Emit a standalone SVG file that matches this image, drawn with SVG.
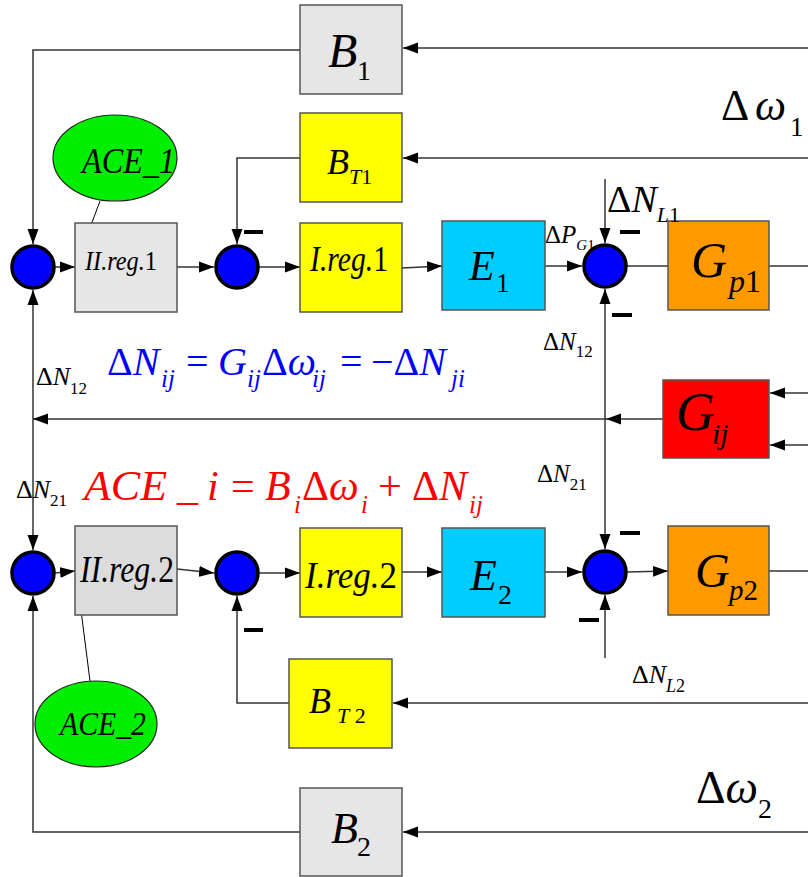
<svg xmlns="http://www.w3.org/2000/svg" width="808" height="877" viewBox="0 0 808 877">
<defs>
<marker id="ar" markerUnits="userSpaceOnUse" markerWidth="16" markerHeight="12" refX="15" refY="6" orient="auto">
<path d="M0,0.5 L15,6 L0,11.5 z" fill="#000"/>
</marker>
<style>
svg g[id] g text, svg g[id] g tspan, svg g text, svg text, svg tspan{font-family:'Liberation Serif','Times New Roman',serif !important}
.box{stroke:#555;stroke-width:1.5}
.gray{fill:#e6e6e6}
.gray2{fill:#dcdcdc}
.yel{fill:#ffff00}
.cy{fill:#00ccff}
.or{fill:#ff9900}
.rd{fill:#ff0000}
.sum{fill:#0000ff;stroke:#000;stroke-width:3.5}
.ace{fill:#00ee00;stroke:#222;stroke-width:1.2}
.ln{fill:none;stroke:#333;stroke-width:1.5}
.la{fill:none;stroke:#333;stroke-width:1.5;marker-end:url(#ar)}
.thin{fill:none;stroke:#000;stroke-width:1}
.minus{fill:#000}
</style>
</defs>
<rect width="808" height="877" fill="#ffffff"/>

<g id="connectors">
<line class="la" x1="808" y1="48" x2="403" y2="48"/>
<polyline class="la" points="300,50 33,50 33,244"/>
<line class="la" x1="808" y1="158" x2="403" y2="158"/>
<polyline class="la" points="300,158 237,158 237,244"/>
<line class="la" x1="55" y1="267" x2="75" y2="267"/>
<line class="la" x1="177" y1="267" x2="214" y2="267"/>
<line class="la" x1="259" y1="267" x2="300" y2="267"/>
<line class="la" x1="402" y1="268" x2="442" y2="266"/>
<line class="la" x1="545" y1="266" x2="582" y2="266"/>
<line class="ln" x1="627" y1="266" x2="668" y2="266"/>
<line class="ln" x1="769" y1="266" x2="808" y2="266"/>
<line class="la" x1="605" y1="179" x2="605" y2="243"/>
<line class="la" x1="605" y1="419" x2="605" y2="289"/>
<line class="la" x1="605" y1="419" x2="605" y2="549"/>
<line class="la" x1="663" y1="419" x2="606" y2="419"/>
<line class="la" x1="606" y1="419" x2="33" y2="419"/>
<line class="la" x1="808" y1="393" x2="770" y2="393"/>
<line class="la" x1="808" y1="445" x2="770" y2="445"/>
<line class="la" x1="33" y1="419" x2="33" y2="290"/>
<line class="la" x1="33" y1="419" x2="33" y2="550"/>
<line class="la" x1="55" y1="573" x2="75" y2="571"/>
<line class="la" x1="177" y1="569" x2="214" y2="573"/>
<line class="la" x1="259" y1="573" x2="300" y2="573"/>
<line class="la" x1="402" y1="572" x2="442" y2="572"/>
<line class="la" x1="545" y1="572" x2="582" y2="572"/>
<line class="la" x1="627" y1="572" x2="668" y2="571"/>
<line class="ln" x1="769" y1="571" x2="808" y2="571"/>
<line class="la" x1="605" y1="658" x2="605" y2="595"/>
<line class="la" x1="808" y1="703" x2="393" y2="703"/>
<polyline class="la" points="289,703 237,703 237,596"/>
<line class="la" x1="808" y1="832" x2="403" y2="832"/>
<polyline class="la" points="300,832 33,832 33,596"/>
<line class="thin" x1="100" y1="201" x2="75" y2="268"/>
<line class="thin" x1="90" y1="681" x2="76" y2="571"/>
</g>

<g id="B1"><rect class="box gray" x="300" y="5" width="102" height="89"/>
<g><text x="328" y="67" font-size="48" font-family="Liberation Serif" font-style="italic">B</text><text x="357" y="80" font-size="28" font-family="Liberation Serif">1</text></g></g>

<g id="BT1"><rect class="box yel" x="300" y="113" width="102" height="89"/>
<g><text x="327" y="174" font-size="36" font-family="Liberation Serif" font-style="italic">B</text><text x="349" y="184" font-size="22" font-family="Liberation Serif"><tspan font-style="italic">T</tspan>1</text></g></g>

<g id="ACE_1"><ellipse class="ace" cx="115" cy="158" rx="62" ry="43"/>
<g><text x="82" y="173" font-size="36" font-family="Liberation Serif" font-style="italic" textLength="93" lengthAdjust="spacingAndGlyphs">ACE_1</text></g></g>

<g id="sum1"><circle class="sum" cx="33" cy="267" r="21"/></g>
<g id="IIreg1"><rect class="box gray" x="75" y="223" width="102" height="89"/>
<g><text x="85" y="270" font-size="27" font-family="Liberation Serif" textLength="72" lengthAdjust="spacingAndGlyphs"><tspan font-style="italic">II.reg.</tspan>1</text></g></g>
<g id="sum2"><circle class="sum" cx="237" cy="267" r="21"/></g>
<g id="Ireg1"><rect class="box yel" x="300" y="223" width="102" height="89"/>
<g><text x="310" y="271" font-size="35" font-family="Liberation Serif" textLength="78" lengthAdjust="spacingAndGlyphs"><tspan font-style="italic">I.reg.</tspan>1</text></g></g>
<g id="E1"><rect class="box cy" x="442" y="221" width="103" height="89"/>
<g><text x="469" y="280" font-size="42" font-family="Liberation Serif" font-style="italic">E</text><text x="496" y="292" font-size="27" font-family="Liberation Serif">1</text></g></g>
<g id="sum3"><circle class="sum" cx="605" cy="266" r="21"/></g>
<g id="Gp1"><rect class="box or" x="668" y="221" width="101" height="89"/>
<g><text x="691" y="277" font-size="50" font-family="Liberation Serif" font-style="italic">G</text><text x="729" y="292" font-size="32" font-family="Liberation Serif"><tspan font-style="italic">p</tspan>1</text></g></g>

<g id="Gij"><rect class="box rd" x="663" y="380" width="106" height="78"/>
<g><text x="676" y="430" font-size="54" font-family="Liberation Serif" font-style="italic">G</text><text x="712" y="444" font-size="30" font-family="Liberation Serif" font-style="italic">ij</text></g></g>

<g id="sum4"><circle class="sum" cx="33" cy="573" r="21"/></g>
<g id="IIreg2"><rect class="box gray2" x="75" y="526" width="102" height="89"/>
<g><text x="80" y="582" font-size="38" font-family="Liberation Serif" textLength="94" lengthAdjust="spacingAndGlyphs"><tspan font-style="italic">II.reg.</tspan>2</text></g></g>
<g id="sum5"><circle class="sum" cx="237" cy="573" r="21"/></g>
<g id="Ireg2"><rect class="box yel" x="300" y="528" width="102" height="89"/>
<g><text x="305" y="588" font-size="37" font-family="Liberation Serif" textLength="92" lengthAdjust="spacingAndGlyphs"><tspan font-style="italic">I.reg.</tspan>2</text></g></g>
<g id="E2"><rect class="box cy" x="442" y="528" width="103" height="89"/>
<g><text x="470" y="590" font-size="44" font-family="Liberation Serif" font-style="italic">E</text><text x="498" y="604" font-size="28" font-family="Liberation Serif">2</text></g></g>
<g id="sum6"><circle class="sum" cx="605" cy="572" r="21"/></g>
<g id="Gp2"><rect class="box or" x="668" y="526" width="101" height="89"/>
<g><text x="695" y="587" font-size="48" font-family="Liberation Serif" font-style="italic">G</text><text x="729" y="600" font-size="29" font-family="Liberation Serif"><tspan font-style="italic">p</tspan>2</text></g></g>

<g id="BT2"><rect class="box yel" x="289" y="659" width="103" height="89"/>
<g><text x="309" y="713" font-size="36" font-family="Liberation Serif" font-style="italic">B</text><text x="337" y="723" font-size="22" font-family="Liberation Serif"><tspan font-style="italic">T</tspan> 2</text></g></g>
<g id="ACE_2"><ellipse class="ace" cx="96" cy="724" rx="61" ry="43"/>
<g><text x="60" y="735" font-size="34" font-family="Liberation Serif" font-style="italic" textLength="86" lengthAdjust="spacingAndGlyphs">ACE_2</text></g></g>
<g id="B2"><rect class="box gray" x="300" y="788" width="102" height="88"/>
<g><text x="331" y="843" font-size="44" font-family="Liberation Serif" font-style="italic">B</text><text x="357" y="856" font-size="28" font-family="Liberation Serif">2</text></g></g>

<g id="signs">
<rect class="minus" x="244" y="230" width="19" height="4"/>
<rect class="minus" x="620" y="230" width="20" height="4"/>
<rect class="minus" x="612" y="313" width="20" height="4"/>
<rect class="minus" x="620" y="531" width="20" height="4"/>
<rect class="minus" x="579" y="618" width="20" height="4"/>
<rect class="minus" x="244" y="628" width="19" height="4"/>
</g>

<text x="721" y="120" font-size="44" font-family="Liberation Serif">Δ<tspan font-style="italic" x="755">ω</tspan><tspan x="790" y="136" font-size="27">1</tspan></text>
<text x="696" y="803" font-size="46" font-family="Liberation Serif">Δ<tspan font-style="italic">ω</tspan><tspan y="818" font-size="28">2</tspan></text>
<text x="607" y="212" font-size="38" font-family="Liberation Serif">Δ<tspan font-style="italic">N</tspan><tspan y="222" font-size="22"><tspan font-style="italic">L</tspan>1</tspan></text>
<text x="632" y="683" font-size="26" font-family="Liberation Serif">Δ<tspan font-style="italic">N</tspan><tspan y="692" font-size="18"><tspan font-style="italic">L</tspan>2</tspan></text>
<text x="545" y="243" font-size="25" font-family="Liberation Serif">Δ<tspan font-style="italic">P</tspan><tspan y="250" font-size="15" font-style="italic">G</tspan><tspan y="250" font-size="15">1</tspan></text>
<text x="543" y="350" font-size="25" font-family="Liberation Serif">Δ<tspan font-style="italic">N</tspan><tspan y="357" font-size="17">12</tspan></text>
<text x="537" y="482" font-size="25" font-family="Liberation Serif">Δ<tspan font-style="italic">N</tspan><tspan y="490" font-size="17">21</tspan></text>
<text x="36" y="385" font-size="26" font-family="Liberation Serif">Δ<tspan font-style="italic">N</tspan><tspan y="394" font-size="17">12</tspan></text>
<text x="16" y="498" font-size="26" font-family="Liberation Serif">Δ<tspan font-style="italic">N</tspan><tspan y="506" font-size="17">21</tspan></text>

<text fill="#0000ff" x="107" y="375" font-size="40" font-family="Liberation Serif">Δ<tspan font-style="italic">N</tspan></text>
<text fill="#0000ff" x="161" y="387" font-size="25" font-family="Liberation Serif" font-style="italic">ij</text>
<text fill="#0000ff" x="186" y="375" font-size="40" font-family="Liberation Serif">=</text>
<text fill="#0000ff" x="218" y="375" font-size="40" font-family="Liberation Serif" font-style="italic">G</text>
<text fill="#0000ff" x="247" y="387" font-size="25" font-family="Liberation Serif" font-style="italic">ij</text>
<text fill="#0000ff" x="262" y="375" font-size="40" font-family="Liberation Serif">Δ<tspan font-style="italic">ω</tspan></text>
<text fill="#0000ff" x="312" y="387" font-size="25" font-family="Liberation Serif" font-style="italic">ij</text>
<text fill="#0000ff" x="340" y="375" font-size="40" font-family="Liberation Serif">=</text>
<text fill="#0000ff" x="371" y="375" font-size="40" font-family="Liberation Serif">−Δ<tspan font-style="italic">N</tspan></text>
<text fill="#0000ff" x="451" y="387" font-size="25" font-family="Liberation Serif" font-style="italic">ji</text>

<text fill="#ff0000" x="84" y="500" font-size="42" font-family="Liberation Serif" font-style="italic" textLength="83" lengthAdjust="spacingAndGlyphs">ACE</text>
<text fill="#ff0000" x="177" y="500" font-size="42" font-family="Liberation Serif">_</text>
<text fill="#ff0000" x="207" y="500" font-size="42" font-family="Liberation Serif" font-style="italic">i</text>
<text fill="#ff0000" x="231" y="500" font-size="42" font-family="Liberation Serif">=</text>
<text fill="#ff0000" x="265" y="500" font-size="42" font-family="Liberation Serif" font-style="italic">B</text>
<text fill="#ff0000" x="294" y="513" font-size="25" font-family="Liberation Serif" font-style="italic">i</text>
<text fill="#ff0000" x="302" y="500" font-size="42" font-family="Liberation Serif">Δ<tspan font-style="italic">ω</tspan></text>
<text fill="#ff0000" x="361" y="513" font-size="25" font-family="Liberation Serif" font-style="italic">i</text>
<text fill="#ff0000" x="378" y="500" font-size="42" font-family="Liberation Serif">+</text>
<text fill="#ff0000" x="412" y="500" font-size="42" font-family="Liberation Serif">Δ<tspan font-style="italic">N</tspan></text>
<text fill="#ff0000" x="469" y="513" font-size="25" font-family="Liberation Serif" font-style="italic">ij</text>
</svg>
